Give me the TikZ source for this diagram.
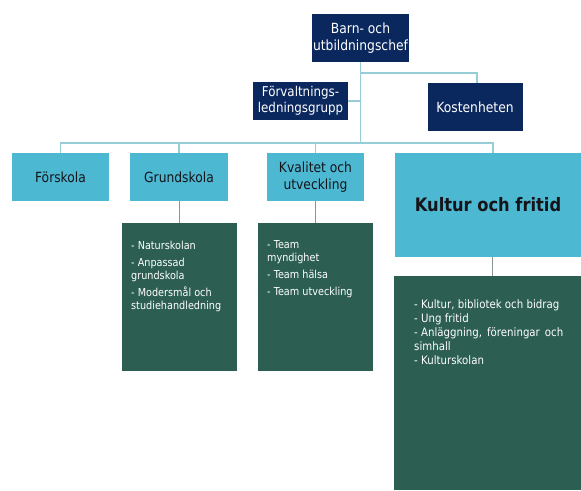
\documentclass[tikz,border=0pt]{standalone}
\usepackage{fontspec}
\setmainfont{DejaVu Sans}[FakeStretch=0.88]
\definecolor{navy}{RGB}{10,40,94}
\definecolor{lblue}{RGB}{77,184,210}
\definecolor{dgreen}{RGB}{44,94,82}
\definecolor{lineblue}{RGB}{150,205,215}
\definecolor{gline}{RGB}{140,150,150}
\definecolor{txt}{RGB}{20,20,25}
\tikzset{
  navybox/.style={fill=navy, text=white, inner sep=0pt, align=center, font=\fontsize{14}{17}\selectfont},
  bluebox/.style={fill=lblue, text=txt, inner sep=0pt, align=center, font=\fontsize{14}{17}\selectfont},
  greenbox/.style={fill=dgreen, inner sep=0pt},
  gtext/.style={text=white, inner sep=0pt, anchor=north west, font=\fontsize{11}{13}\selectfont},
  conn/.style={draw=lineblue, line width=1.3pt},
  gconn/.style={draw=gline, line width=1pt}
}
\begin{document}
\begin{tikzpicture}[x=1pt,y=-1pt]
\useasboundingbox (0,0) rectangle (581,490);
% top level
\node[navybox, minimum width=97pt, minimum height=48pt] (chef) at (360.5,38) {Barn- och\\utbildningschef};
\node[navybox, minimum width=95pt, minimum height=38pt, font=\fontsize{13.5}{16.5}\selectfont] (forv) at (300.5,101) {Förvaltnings-\\ledningsgrupp};
\node[navybox, minimum width=95pt, minimum height=48pt] (kost) at (475,107) {Kostenheten};
% second level
\node[bluebox, minimum width=97pt, minimum height=48pt] (fsk) at (60.5,177) {Förskola};
\node[bluebox, minimum width=98pt, minimum height=48pt] (gsk) at (179,177) {Grundskola};
\node[bluebox, minimum width=97pt, minimum height=48pt] (kval) at (315.5,177) {Kvalitet och\\utveckling};
\node[bluebox, minimum width=186pt, minimum height=104pt, font=\fontsize{18.5}{22}\selectfont\bfseries] (kul) at (488,205) {Kultur och fritid};
% green boxes
\node[greenbox, minimum width=115pt, minimum height=148pt] (gskc) at (179.5,297) {};
\node[greenbox, minimum width=115pt, minimum height=148pt] (kvalc) at (315.5,297) {};
\node[greenbox, minimum width=187pt, minimum height=214pt] (kulc) at (487.5,383) {};
\node[gtext] (gskt) at (131,241) {\parbox{105pt}{\raggedright
- Naturskolan\\[4pt]
- Anpassad\\grundskola\\[4pt]
- Modersmål och\\studiehandledning}};
\node[gtext] (kvalt) at (267,240) {\parbox{105pt}{\raggedright
- Team\\myndighet\\[4pt]
- Team hälsa\\[4pt]
- Team utveckling}};
\node[gtext, font=\fontsize{11.6}{14.2}\selectfont] (kult) at (414,299) {\parbox{149pt}{\raggedright
- Kultur, bibliotek och bidrag\\
- Ung fritid\\
\leavevmode\hbox to 149pt{- Anläggning,\hfill föreningar\hfill och}\\
simhall\\
- Kulturskolan}};
% connectors
\coordinate (hub) at (360.5,143);
\draw[conn] (chef.south) -- (hub);
\draw[conn] (forv.east) -- (forv.east -| hub);
\draw[conn] (chef.south |- 0,73) -| ([xshift=2pt]kost.north);
\draw[conn] (fsk.north) |- ([xshift=5pt]kul.north |- hub) -- ([xshift=5pt]kul.north);
\draw[conn] (gsk.north) -- (gsk.north |- hub);
\draw[conn] (kval.north) -- (kval.north |- hub);
\draw[gconn] (gsk.south) -- (gskc.north -| gsk.south);
\draw[gconn] (kval.south) -- (kvalc.north -| kval.south);
\draw[gconn] ([xshift=4pt]kul.south) -- ([xshift=4pt]kul.south |- kulc.north);
\end{tikzpicture}
\end{document}
